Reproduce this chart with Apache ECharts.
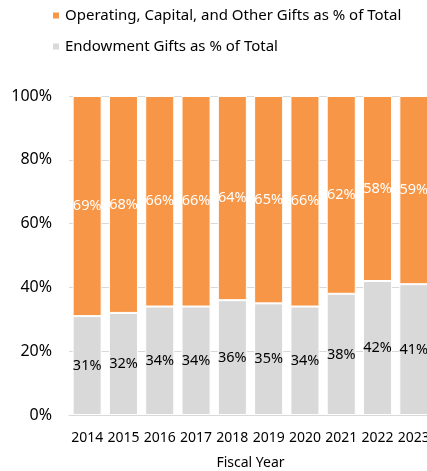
<!DOCTYPE html>
<html>
<head>
<meta charset="utf-8">
<script src="https://cdn.jsdelivr.net/npm/echarts@6/dist/echarts.min.js"></script>
<style>
  html, body { margin: 0; padding: 0; background: #fff; overflow: hidden; }
  #chart { width: 427px; height: 471px; }
</style>
</head>
<body>
<div id="chart"></div>
<script>
// Fiscal years and gift mix (percent of total gifts)
const years = ['2014', '2015', '2016', '2017', '2018', '2019', '2020', '2021', '2022', '2023'];
const endowmentPct = [31, 32, 34, 34, 36, 35, 34, 38, 42, 41];
const operatingPct = [69, 68, 66, 66, 64, 65, 66, 62, 58, 59];
const yTicks = [0, 20, 40, 60, 80, 100];

const FONT = 'Noto Sans';
const chart = echarts.init(document.getElementById('chart'), null, { renderer: 'canvas' });

chart.setOption({
  animation: false,
  textStyle: { fontFamily: FONT },
  legend: {
    orient: 'vertical',
    left: 46,
    top: 3,
    itemWidth: 8,
    itemHeight: 8,
    itemGap: 16,
    icon: 'rect',
    textStyle: { fontFamily: FONT, fontSize: 15, color: '#000' },
    data: ['Operating, Capital, and Other Gifts as % of Total', 'Endowment Gifts as % of Total']
  },
  // the last year's bar runs past the right edge of the canvas
  grid: { left: 69, top: 96, right: -5, bottom: 56, containLabel: false, outerBoundsMode: 'none' },
  xAxis: {
    type: 'category',
    data: years,
    name: 'Fiscal Year',
    nameLocation: 'middle',
    nameGap: 41,
    nameTextStyle: { fontFamily: FONT, fontSize: 14, color: '#000' },
    axisLine: { lineStyle: { color: '#D9D9D9', width: 1 } },
    axisTick: { show: false },
    axisLabel: { fontFamily: FONT, fontSize: 14, color: '#000', margin: 16, interval: 0 }
  },
  yAxis: {
    type: 'value',
    min: yTicks[0],
    max: yTicks[yTicks.length - 1],
    interval: 20,
    axisLine: { show: false },
    axisTick: { show: false },
    splitLine: { lineStyle: { color: '#D9D9D9', width: 1 } },
    axisLabel: { fontFamily: FONT, fontSize: 16, color: '#000', margin: 17, formatter: v => v + '%' }
  },
  series: [
    {
      name: 'Endowment Gifts as % of Total',
      type: 'bar',
      stack: 'total',
      barCategoryGap: '20%',
      data: endowmentPct,
      itemStyle: { color: '#D9D9D9', borderColor: '#fff', borderWidth: 1 },
      label: { show: true, position: 'inside', formatter: p => p.value + '%', fontFamily: FONT, fontSize: 14.5, color: '#000' }
    },
    {
      name: 'Operating, Capital, and Other Gifts as % of Total',
      type: 'bar',
      stack: 'total',
      data: operatingPct,
      itemStyle: { color: '#F79646', borderColor: '#fff', borderWidth: 1 },
      label: { show: true, position: 'inside', formatter: p => p.value + '%', fontFamily: FONT, fontSize: 14.5, color: '#fff' }
    }
  ]
});
</script>
</body>
</html>
